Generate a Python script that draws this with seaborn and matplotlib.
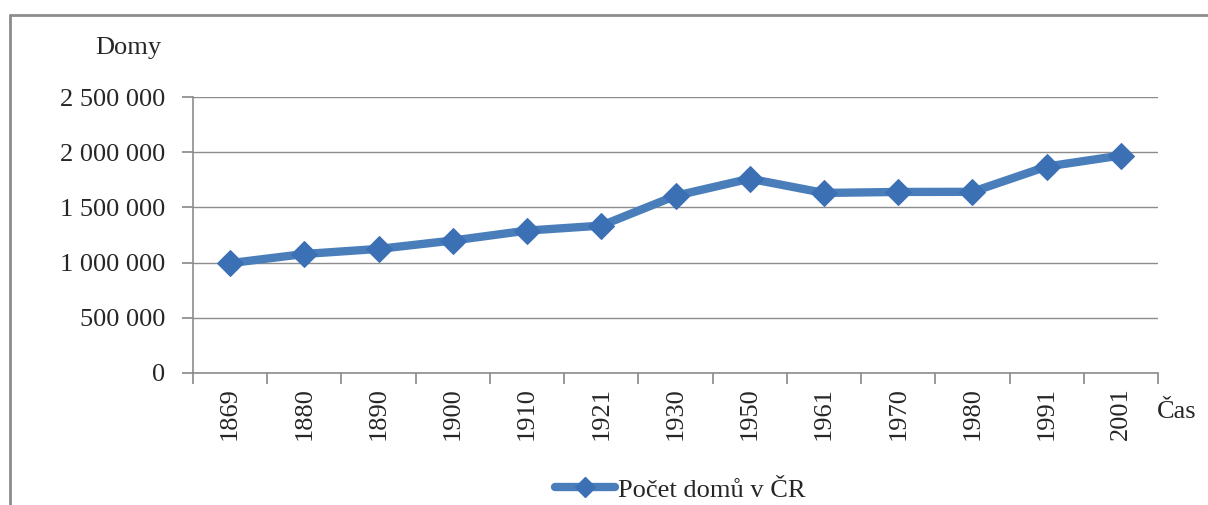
"""Počet domů v ČR – line chart recreation."""

import matplotlib

matplotlib.use("Agg")
import matplotlib.pyplot as plt
import pandas as pd
import seaborn as sns
from matplotlib.lines import Line2D
from matplotlib.ticker import FixedLocator, FuncFormatter, MultipleLocator

years = ["1869", "1880", "1890", "1900", "1910", "1921", "1930",
         "1950", "1961", "1970", "1980", "1991", "2001"]
houses = [995000, 1078000, 1124000, 1200000, 1290000, 1335000, 1605000,
          1760000, 1631000, 1640000, 1641000, 1870000, 1970000]
series_label = "Počet domů v ČR"

sns.set_theme(style="white")
plt.rcParams["font.family"] = ["Liberation Serif", "DejaVu Serif"]

df = pd.DataFrame({"pos": range(len(years)), "year": years, "houses": houses})

fig = plt.figure(figsize=(12.08, 5.05), dpi=100)
ax = fig.add_axes([0.1598, 0.2614, 0.7988, 0.5465])

blue = "#4A7EBB"
sns.lineplot(data=df, x="pos", y="houses", ax=ax, color=blue, linewidth=6,
             marker="D", markersize=13, markerfacecolor="#3C70B4",
             markeredgecolor="#3C70B4", label=series_label, legend=False)

ax.set_xlim(-0.5, len(years) - 0.5)
ax.set_ylim(0, 2500000)
ax.yaxis.set_major_locator(MultipleLocator(500000))
ax.yaxis.set_major_formatter(FuncFormatter(lambda v, _: f"{int(v):,}".replace(",", " ")))
ax.grid(axis="y", color="#8c8c8c", linewidth=1)
ax.set_axisbelow(True)

# category boundaries carry the tick marks, labels sit between them
ax.xaxis.set_major_locator(FixedLocator([i - 0.5 for i in range(len(years) + 1)]))
ax.xaxis.set_major_formatter(FuncFormatter(lambda v, _: ""))
ax.xaxis.set_minor_locator(FixedLocator(list(df["pos"])))
ax.set_xticklabels(years, minor=True, rotation=90, fontsize=19)
ax.tick_params(axis="x", which="major", direction="out", length=8, color="#8c8c8c",
               bottom=True)
ax.tick_params(axis="x", which="minor", length=0, pad=10, bottom=True)
ax.tick_params(axis="y", direction="out", length=8, color="#8c8c8c", left=True,
               labelsize=19, pad=12)

ax.set_xlabel("")
ax.set_ylabel("")
for side in ["top", "right"]:
    ax.spines[side].set_visible(False)
for side in ["left", "bottom"]:
    ax.spines[side].set_color("#8c8c8c")
    ax.spines[side].set_linewidth(1.2)

fig.text(0.106, 0.905, "Domy", fontsize=19, ha="center", va="center")
fig.text(0.958, 0.184, "Čas", fontsize=19, ha="left", va="center")

handle = Line2D([], [], color=blue, linewidth=6, marker="D", markersize=10,
                markerfacecolor="#3C70B4", markeredgecolor="#3C70B4")
fig.legend([handle], [series_label], loc="center", bbox_to_anchor=(0.563, 0.03),
           frameon=False, fontsize=19, handlelength=2.3, handletextpad=0.1)

# outer chart frame (cut off on the right and at the bottom)
fig.add_artist(Line2D([0.0083, 1.0], [0.97, 0.97], transform=fig.transFigure,
                      color="#8c8c8c", linewidth=2))
fig.add_artist(Line2D([0.0083, 0.0083], [0.0, 0.97], transform=fig.transFigure,
                      color="#8c8c8c", linewidth=2))

fig.savefig("out.png", dpi=100)
